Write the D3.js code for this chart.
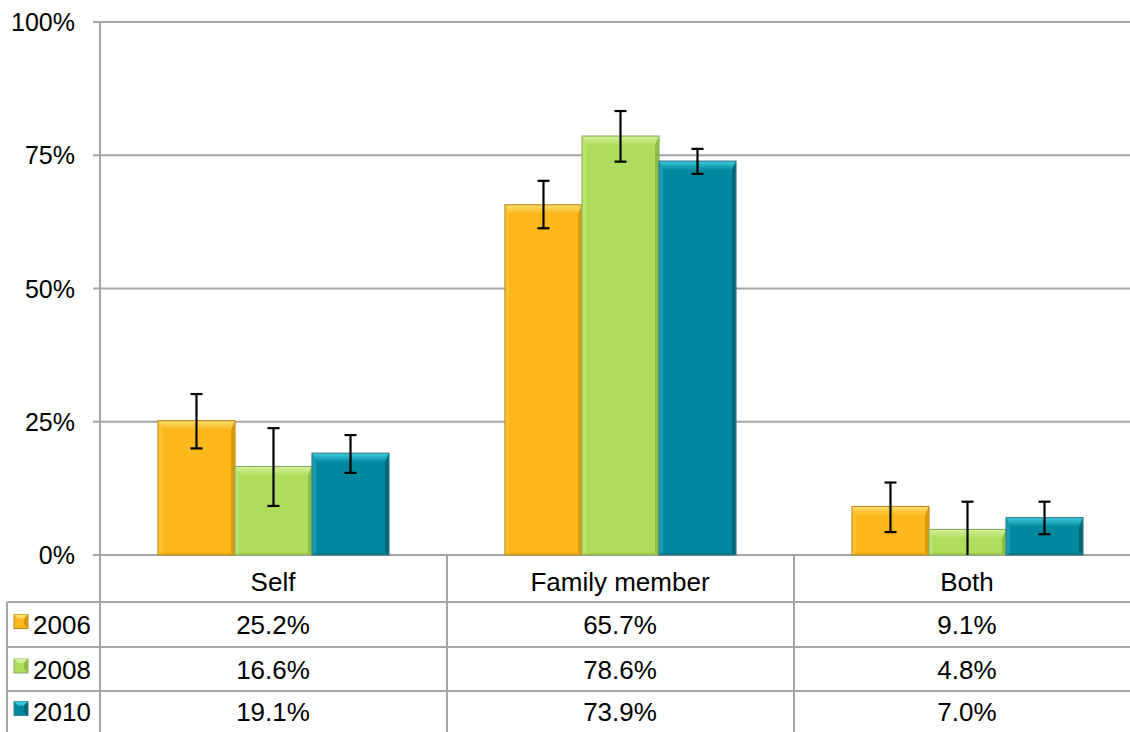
<!DOCTYPE html>
<html><head><meta charset="utf-8">
<script src="https://cdn.jsdelivr.net/npm/d3@7"></script>
<style>body{margin:0;background:#fff;}svg{display:block;font-family:"Liberation Sans",Arial,sans-serif;}</style>
</head><body><svg id="c" width="1130" height="732"></svg>
<script>
const categories = ["Self", "Family member", "Both"];
const seriesNames = ["2006", "2008", "2010"];
const values2006 = [25.2, 65.7, 9.1];
const values2008 = [16.6, 78.6, 4.8];
const values2010 = [19.1, 73.9, 7.0];
const errHigh2006 = [30.2, 70.2, 13.6];
const errLow2006 = [20.0, 61.3, 4.3];
const errHigh2008 = [23.8, 83.3, 10.0];
const errLow2008 = [9.2, 73.8, 0];
const errHigh2010 = [22.5, 76.2, 10.0];
const errLow2010 = [15.4, 71.5, 3.9];
const yTicks = [0, 25, 50, 75, 100];
const tickLabels = ["0%", "25%", "50%", "75%", "100%"];

const seriesValues = [values2006, values2008, values2010];
const seriesHigh = [errHigh2006, errHigh2008, errHigh2010];
const seriesLow = [errLow2006, errLow2008, errLow2010];
const palette = [
  {base:"#FDB81C", top:"#FFDA66", left:"#FEC43A", right:"#D89A0C", bottom:"#E2A312", edge:"#B78A2A"},
  {base:"#AEDD5E", top:"#D2F096", left:"#BBE672", right:"#8CBD44", bottom:"#98C84E", edge:"#8FA86A"},
  {base:"#00899E", top:"#3CC8DC", left:"#1AA2B6", right:"#006676", bottom:"#007587", edge:"#3E7E88"}
];

(function(){
const svg = d3.select("#c");
const defs = svg.append("defs");
palette.forEach((c, i) => {
  const gr = defs.append("linearGradient").attr("id", "tg" + i).attr("x1", 0).attr("y1", 0).attr("x2", 0).attr("y2", 1);
  gr.append("stop").attr("offset", 0).attr("stop-color", c.top);
  gr.append("stop").attr("offset", 1).attr("stop-color", c.base);
});
const pl = 100, pt = 22, pb = 555, pr = 1141;
const y = d3.scaleLinear().domain([0, 100]).range([pb, pt]);
const x0 = d3.scaleBand().domain(categories).range([pl, pr]).paddingInner(0).paddingOuter(0);
const x1 = d3.scaleBand().domain(seriesNames).range([0, x0.bandwidth()]).paddingInner(0).paddingOuter(0.753);
const grid = "#A6A6A6";

svg.append("g").selectAll("line").data(yTicks).join("line")
  .attr("x1", pl - 7).attr("x2", 1130)
  .attr("y1", d => y(d)).attr("y2", d => y(d))
  .attr("stroke", grid).attr("stroke-width", 2);
svg.append("line").attr("x1", pl).attr("x2", pl).attr("y1", pt - 1).attr("y2", 732)
  .attr("stroke", grid).attr("stroke-width", 2);
svg.append("g").selectAll("text").data(yTicks).join("text")
  .attr("x", 75).attr("y", d => y(d) + 9).attr("text-anchor", "end")
  .attr("font-size", 25).attr("fill", "#000").text((d, i) => tickLabels[i]);

const bars = svg.append("g");
seriesNames.forEach((s, si) => {
  const c = palette[si];
  categories.forEach((cat, ci) => {
    const v = seriesValues[si][ci];
    const bx = x0(cat) + x1(s), bw = x1.bandwidth();
    const by = y(v), bh = y(0) - y(v);
    const g = bars.append("g");
    g.append("rect").attr("x", bx).attr("y", by).attr("width", bw).attr("height", bh)
      .attr("fill", c.base).attr("stroke", c.edge).attr("stroke-width", 1.2);
    const b = Math.min(9, bh / 2), bs = 4;
    const x2 = bx + bw, y2 = by + bh;
    g.append("polygon").attr("points", [[bx+0.6,by+0.6],[bx+bs,by+b],[bx+bs,y2-2],[bx+0.6,y2-0.6]].join(" ")).attr("fill", c.left).attr("opacity", 0.8);
    g.append("polygon").attr("points", [[x2-0.6,by+0.6],[x2-bs,by+b],[x2-bs,y2-2],[x2-0.6,y2-0.6]].join(" ")).attr("fill", c.right);
    g.append("polygon").attr("points", [[bx+0.6,y2-0.6],[bx+bs,y2-2],[x2-bs,y2-2],[x2-0.6,y2-0.6]].join(" ")).attr("fill", c.bottom);
    g.append("polygon").attr("points", [[bx+0.6,by+0.6],[x2-0.6,by+0.6],[x2-bs,by+b],[bx+bs,by+b]].join(" ")).attr("fill", "url(#tg" + si + ")");
  });
});

const eb = svg.append("g").attr("stroke", "#000").attr("stroke-width", 2.2);
seriesNames.forEach((s, si) => {
  categories.forEach((cat, ci) => {
    const cx = x0(cat) + x1(s) + x1.bandwidth() / 2;
    const hi = y(seriesHigh[si][ci]), lo = y(seriesLow[si][ci]);
    eb.append("line").attr("x1", cx).attr("x2", cx).attr("y1", hi).attr("y2", lo);
    eb.append("line").attr("x1", cx - 6).attr("x2", cx + 6).attr("y1", hi).attr("y2", hi);
    if (seriesLow[si][ci] > 0)
      eb.append("line").attr("x1", cx - 6).attr("x2", cx + 6).attr("y1", lo).attr("y2", lo);
  });
});

const rowY = [555, 602, 647, 691, 732];
const t = svg.append("g");
t.selectAll("line.v").data(categories).join("line").attr("class", "v")
  .attr("x1", d => x0(d) + x0.bandwidth()).attr("x2", d => x0(d) + x0.bandwidth())
  .attr("y1", pb).attr("y2", 732).attr("stroke", grid).attr("stroke-width", 2);
t.selectAll("line.h").data([1, 2, 3]).join("line").attr("class", "h")
  .attr("x1", 7).attr("x2", 1130).attr("y1", d => rowY[d]).attr("y2", d => rowY[d])
  .attr("stroke", grid).attr("stroke-width", 2);
t.append("line").attr("x1", 7).attr("x2", 7).attr("y1", rowY[1]).attr("y2", 732)
  .attr("stroke", grid).attr("stroke-width", 2);
t.selectAll("text.cat").data(categories).join("text").attr("class", "cat")
  .attr("x", d => x0(d) + x0.bandwidth() / 2 - 0.5).attr("y", 591).attr("text-anchor", "middle")
  .attr("font-size", 26).text(d => d);
seriesNames.forEach((s, si) => {
  const cy = (rowY[si + 1] + rowY[si + 2]) / 2 + 9.5;
  t.selectAll("text.r" + si).data(categories).join("text").attr("class", "r" + si)
    .attr("x", d => x0(d) + x0.bandwidth() / 2 - 0.5).attr("y", cy).attr("text-anchor", "middle")
    .attr("font-size", 26).text((d, ci) => seriesValues[si][ci].toFixed(1) + "%");
  const c = palette[si];
  const ly = (rowY[si + 1] + rowY[si + 2]) / 2;
  const lg = t.append("g");
  lg.append("rect").attr("x", 14).attr("y", ly - 10).attr("width", 14).attr("height", 14)
    .attr("fill", c.base).attr("stroke", c.edge).attr("stroke-width", 1);
  lg.append("polygon").attr("points", [[14,ly-10],[28,ly-10],[24,ly-6],[18,ly-6]].join(" ")).attr("fill", c.top);
  lg.append("polygon").attr("points", [[28,ly-10],[28,ly+4],[24,ly],[24,ly-6]].join(" ")).attr("fill", c.right);
  lg.append("text").attr("x", 33).attr("y", ly + 9.5).attr("font-size", 26).text(s);
});
})();
</script></body></html>
